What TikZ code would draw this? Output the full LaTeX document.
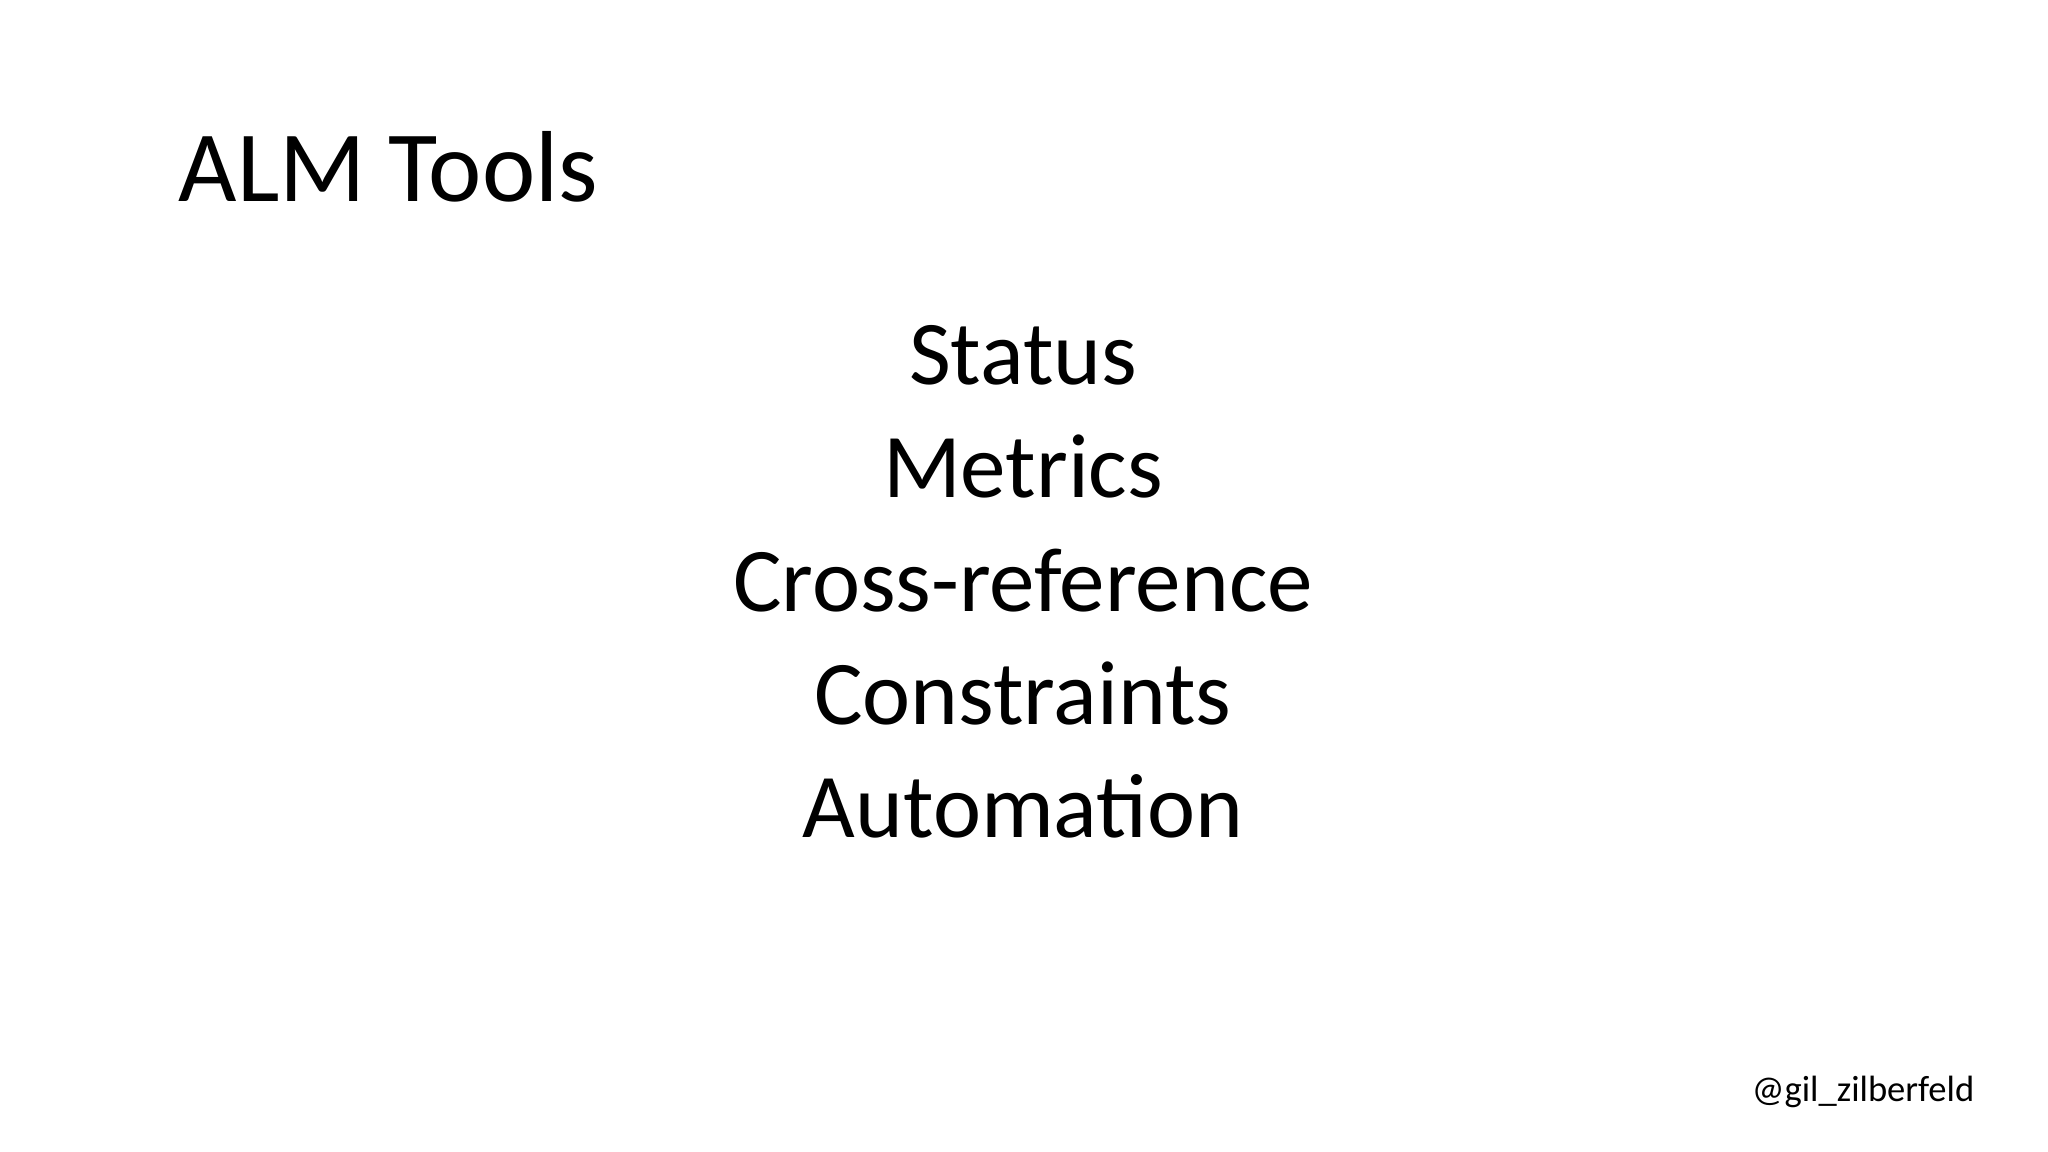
\documentclass[tikz,border=0pt]{standalone}
\usepackage{fontspec}
\setmainfont{Carlito}
\begin{document}
\begin{tikzpicture}[x=0.01cm,y=-0.01cm,
  title/.style={anchor=base west,inner sep=0pt,font=\fontsize{28.7}{34}\selectfont},
  item/.style={anchor=base,inner sep=0pt,font=\fontsize{25.9}{31}\selectfont},
  handle/.style={anchor=base east,inner sep=0pt,font=\fontsize{10.4}{12}\selectfont}]
\useasboundingbox (0,0) rectangle (2048,1152);
\node[title] (t) at (178,202) {ALM Tools};
\node[item] (a) at (1023,385) {Status};
\node[item] (b) at (1023,498) {Metrics};
\node[item] (c) at (1023,611) {Cross-reference};
\node[item] (d) at (1023,724) {Constraints};
\node[item] (e) at (1023,837) {Automation};
\node[handle] (h) at (1975,1101) {@gil\_zilberfeld};
\end{tikzpicture}
\end{document}
